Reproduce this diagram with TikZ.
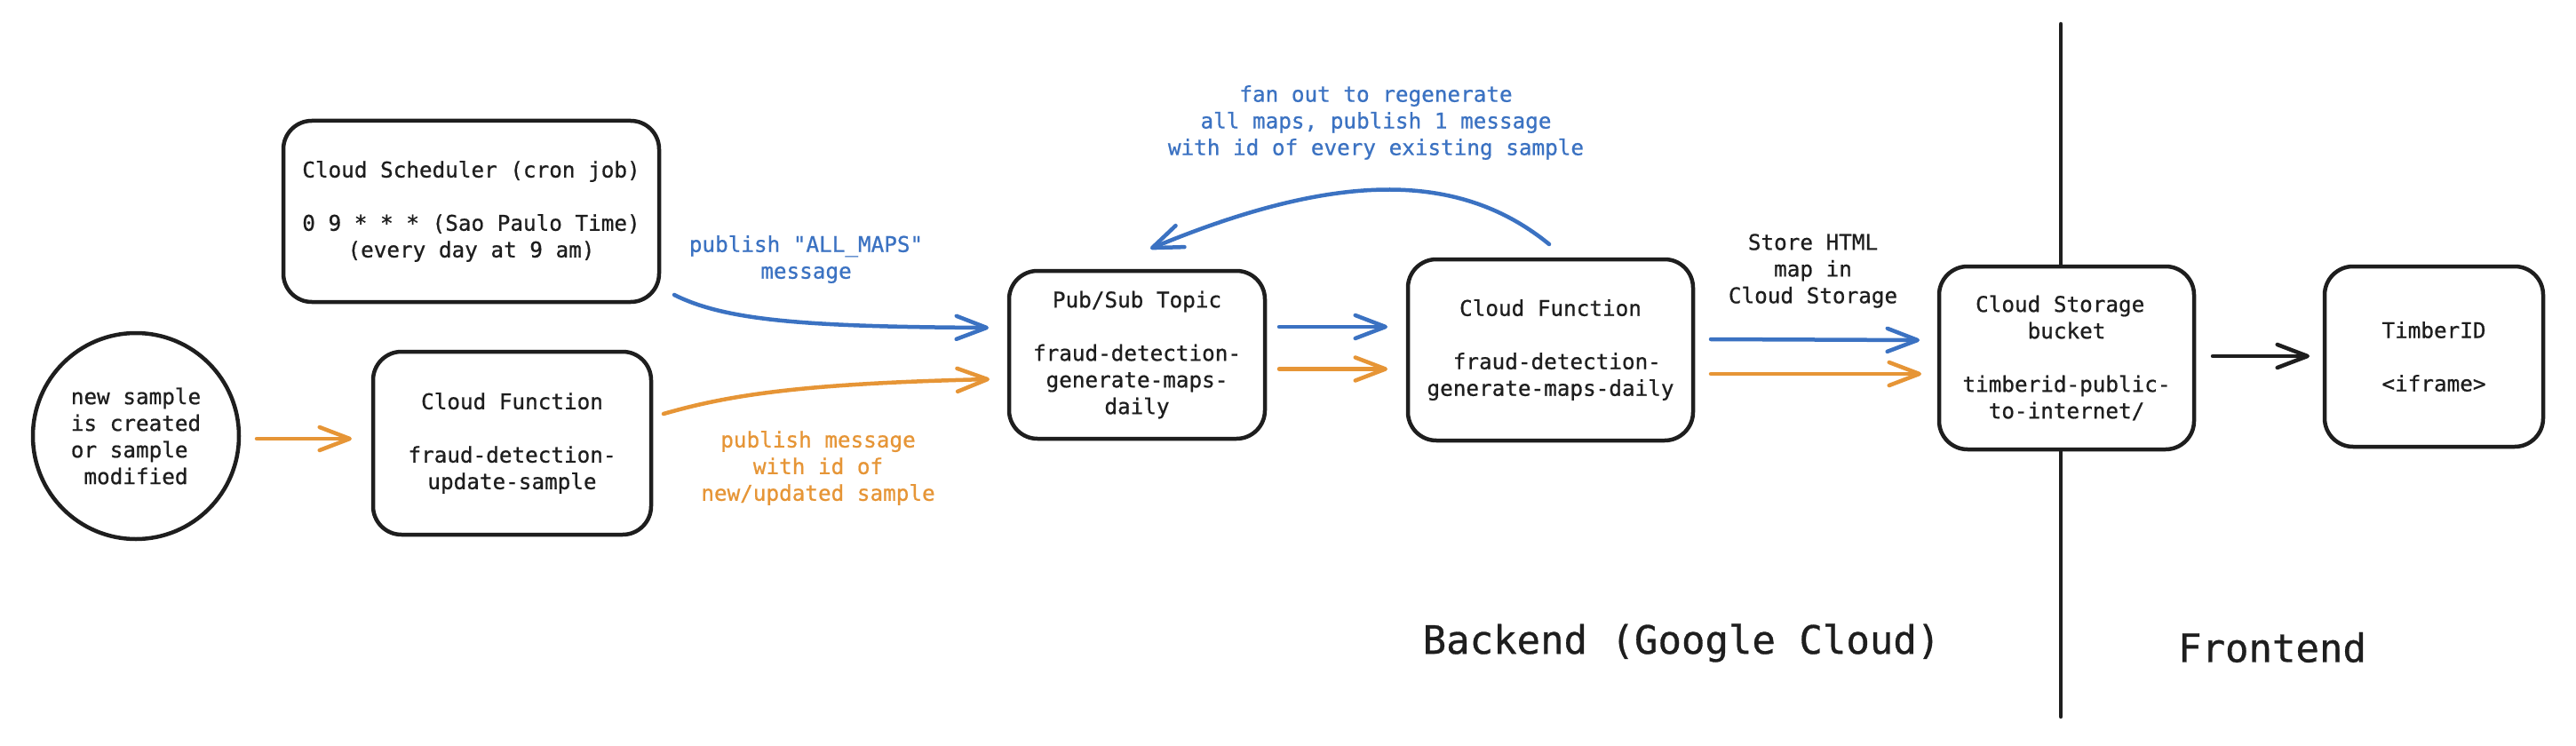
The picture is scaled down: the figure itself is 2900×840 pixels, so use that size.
\documentclass[tikz,border=0pt]{standalone}
\usepackage{fontspec}
\setmainfont{DejaVu Sans Mono}[Ligatures=TeXOff, FakeBold=0.7]
\usetikzlibrary{arrows.meta,calc}
\definecolor{exblue}{HTML}{3B72C2}
\definecolor{exorange}{HTML}{E69536}
\definecolor{exblack}{HTML}{1E1E1E}
\newcommand\dgbody{\fontsize{24.3}{30}\selectfont}
\newcommand\dglarge{\fontsize{44}{52}\selectfont}
\tikzset{
  box/.style={draw=exblack, line width=4.5pt, rounded corners=32pt, fill=white,
    align=center, inner sep=0pt, outer sep=0pt, font=\dgbody, text=exblack},
  blob/.style={draw=exblack, line width=4.5pt, circle, fill=white,
    align=center, inner sep=0pt, outer sep=0pt, font=\dgbody, text=exblack},
  lbl/.style={align=center, inner sep=0pt, font=\dgbody},
  big/.style={inner sep=0pt, font=\dglarge, text=exblack},
  conn/.style={line width=4.5pt, line cap=round, line join=round,
    -{Straight Barb[length=34pt,width=26pt,line cap=round,line join=round]}},
  divider/.style={draw=exblack, line width=4.5pt, line cap=round}
}
\begin{document}
\begin{tikzpicture}[x=1pt,y=-1pt]
\useasboundingbox[fill=white] (0,0) rectangle (2900,840);

% divider between backend and frontend
\coordinate (divtop) at (2320,27);
\coordinate (divbot) at (2320,807);
\draw[divider] (divtop) -- (divbot);

% nodes
\node[blob, minimum size=232pt] (circ) at (153,491)
  {new sample\\is created\\or sample\hphantom{x}\\modified};
\node[box, minimum width=423pt, minimum height=204pt] (sched) at (530.5,238)
  {Cloud Scheduler (cron job)\\[30pt]0 9 * * * (Sao Paulo Time)\\(every day at 9 am)};
\node[box, minimum width=313pt, minimum height=206pt] (cf1) at (576.5,499)
  {Cloud Function\\[30pt]fraud-detection-\\update-sample};
\node[box, minimum width=288pt, minimum height=189pt] (pub) at (1280,399.5)
  {Pub/Sub Topic\\[30pt]fraud-detection-\\generate-maps-\\daily};
\node[box, minimum width=321pt, minimum height=204pt] (cf2) at (1745.5,394)
  {Cloud Function\\[30pt]\hphantom{x}fraud-detection-\\generate-maps-daily};
\node[box, minimum width=287pt, minimum height=206pt] (store) at (2326.5,403)
  {Cloud Storage\hphantom{x}\\bucket\\[30pt]timberid-public-\\to-internet/};
\node[box, minimum width=246pt, minimum height=203pt] (timber) at (2740,401.5)
  {TimberID\\[30pt]<iframe>};

% labels
\node[lbl, text=exblue] (lblall) at (907.5,292)
  {publish "ALL\_MAPS"\\message};
\node[lbl, text=exorange] (lblnew) at (921,527)
  {publish message\\with id of\\new/updated sample};
\node[lbl, text=exblue] (lblfan) at (1549,138)
  {fan out to regenerate\\all maps, publish 1 message\\with id of every existing sample};
\node[lbl, text=exblack] (lblstore) at (2041,305)
  {Store HTML\\map in\\Cloud Storage};
\node[big] (backend) at (1893,724) {Backend (Google Cloud)};
\node[big] (frontend) at (2558,729) {Frontend};

% connectors
\draw[conn, exorange] ($(circ.east)+(20,3)$) -- ($(cf1.west)+(-24,-5)$);
\draw[conn, exblue] ($(sched.south east)+(17,-8)$)
  .. controls (815,360) and (900,368) .. ($(pub.west)+(-23,-30.5)$);
\draw[conn, exorange] ($(cf1.east)+(14,-33)$)
  .. controls (820,445) and (900,432) .. ($(pub.west)+(-22,27.5)$);
\draw[conn, exblue] ($(pub.east)+(16,-31.5)$) -- ($(cf2.west)+(-23,-26)$);
\draw[conn, exorange] ($(pub.east)+(16,16)$) -- ($(cf2.west)+(-23,21.5)$);
\draw[conn, exblue] ($(cf2.east)+(20,-12)$) -- ($(store.west)+(-22,-20)$);
\draw[conn, exorange] ($(cf2.east)+(20,27)$) -- ($(store.west)+(-20,18)$);
\draw[conn, exblack] ($(store.east)+(21,-2)$) -- ($(timber.west)+(-17,-0.5)$);
\draw[conn, exblue] ($(cf2.north)+(-1.5,-17)$)
  .. controls (1640,190) and (1500,195) .. ($(pub.north)+(15,-25)$);
\end{tikzpicture}
\end{document}
